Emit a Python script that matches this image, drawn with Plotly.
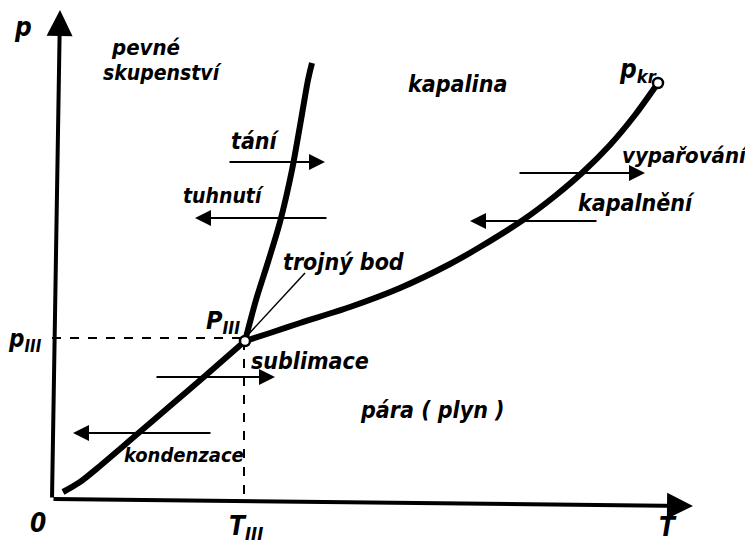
import plotly.graph_objects as go

# Diagram coordinates: T to the right, p upwards (origin at the axes' corner)
subl_T = [11, 28, 48, 68, 83, 118, 153, 193]
subl_p = [7, 17, 33, 50, 63, 93, 123, 158]

melt_T = [193, 204, 216, 228, 240, 249, 256, 260]
melt_p = [158, 199, 237, 277, 329, 379, 419, 436]

vap_T = [193, 218, 248, 298, 348, 398, 428, 471, 503, 531, 558, 583, 606]
vap_p = [158, 166, 176, 192, 211, 235, 252, 279, 303, 327, 354, 384, 416]

triple_T, triple_p = 193, 158
crit_T, crit_p = 606, 416

# process arrows: (label, T_from, T_to, p)
arrows = [
    ("tání", 176, 273, 337),
    ("tuhnutí", 276, 143, 281),
    ("sublimace", 103, 223, 122),
    ("kondenzace", 160, 21, 66),
    ("vypařování", 466, 593, 326),
    ("kapalnění", 546, 418, 278),
]

FONT = "DejaVu Sans Condensed, DejaVu Sans"
fig = go.Figure()

for T, p in [(subl_T, subl_p), (melt_T, melt_p), (vap_T, vap_p)]:
    fig.add_trace(go.Scatter(x=T, y=p, mode="lines",
                             line=dict(color="black", width=6, shape="spline", smoothing=0.8),
                             hoverinfo="skip", showlegend=False))

# dashed guide lines
fig.add_trace(go.Scatter(x=[0, triple_T], y=[triple_p + 3, triple_p + 3], mode="lines",
                         line=dict(color="black", width=2, dash="dash"), showlegend=False))
fig.add_trace(go.Scatter(x=[triple_T - 1, triple_T - 1], y=[triple_p, 0], mode="lines",
                         line=dict(color="black", width=2, dash="dash"), showlegend=False))
# leader line for 'trojný bod'
fig.add_trace(go.Scatter(x=[triple_T, triple_T + 60], y=[triple_p + 3, triple_p + 68], mode="lines",
                         line=dict(color="black", width=1.5), showlegend=False))

# points
fig.add_trace(go.Scatter(x=[triple_T, crit_T], y=[triple_p, crit_p], mode="markers",
                         marker=dict(size=10, color="white", line=dict(color="black", width=2.5)),
                         showlegend=False))

ann = []
# axes with arrowheads
ann.append(dict(x=8, y=489, ax=0, ay=0, axref="x", ayref="y", xref="x", yref="y", text="",
                showarrow=True, arrowhead=2, arrowsize=1.3, arrowwidth=4, arrowcolor="black", standoff=0))
ann.append(dict(x=641, y=-7, ax=0, ay=0, axref="x", ayref="y", xref="x", yref="y", text="",
                showarrow=True, arrowhead=2, arrowsize=1.3, arrowwidth=4, arrowcolor="black", standoff=0))
for lab, t0, t1, p in arrows:
    ann.append(dict(x=t1, y=p, ax=t0, ay=p, axref="x", ayref="y", xref="x", yref="y", text="",
                    showarrow=True, arrowhead=2, arrowsize=1.6, arrowwidth=2, arrowcolor="black", standoff=0))

def label(text, x, y, size=23):
    ann.append(dict(x=x, y=y, xref="x", yref="y", text="<i>" + text + "</i>", showarrow=False,
                    font=dict(family=FONT, size=size, color="black", weight="bold"),
                    xanchor="center", yanchor="middle"))

label("p", -29, 472, 26)
label("pevné", 93, 452, 22)
label("skupenství", 110, 426, 21)
label("kapalina", 405, 415)
label("p<sub>kr</sub>", 586, 429, 26)
label("tání", 203, 358)
label("tuhnutí", 171, 303, 21)
label("trojný bod", 291, 237)
label("P<sub>III</sub>", 171, 177, 25)
label("p<sub>III</sub>", -27, 159, 24)
label("sublimace", 258, 138)
label("pára ( plyn )", 380, 89)
label("kondenzace", 132, 44, 20)
label("vypařování", 633, 344, 22)
label("kapalnění", 584, 296)
label("0", -14, -24, 26)
label("T<sub>III</sub>", 194, -28, 26)
label("T", 616, -28, 26)

# the page body adds an 8 px offset; shift ranges to compensate
fig.update_layout(
    width=753, height=549,
    margin=dict(l=0, r=0, t=0, b=0),
    paper_bgcolor="white", plot_bgcolor="white",
    xaxis=dict(range=[-44, 709], visible=False),
    yaxis=dict(range=[-58, 491], visible=False),
    annotations=ann,
    showlegend=False,
)

fig.write_html("out.html")
